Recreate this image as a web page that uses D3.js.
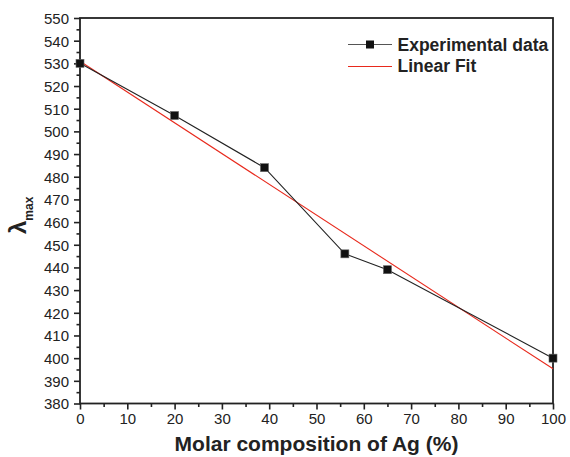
<!DOCTYPE html>
<html><head><meta charset="utf-8">
<script src="https://cdn.jsdelivr.net/npm/d3@7"></script>
<style>body{margin:0;background:#fff}svg{display:block}text{font-family:"Liberation Sans",Arial,sans-serif}</style>
</head><body>
<script>
const xValues = [0, 20, 39, 56, 65, 100];
const yValues = [530, 507, 484, 446, 439, 400];
const fitX = [0, 100];
const fitY = [530.9, 395.3];
const xTicks = [0,10,20,30,40,50,60,70,80,90,100];
const yTicks = [380,390,400,410,420,430,440,450,460,470,480,490,500,510,520,530,540,550];
const seriesNames = ["Experimental data", "Linear Fit"];

const W = 570, H = 457;
const m = {l: 80, r: 17, t: 18, b: 53.5};
const svg = d3.select("body").append("svg").attr("width", W).attr("height", H);
const x = d3.scaleLinear().domain([0,100]).range([m.l, W - m.r]);
const y = d3.scaleLinear().domain([380,550]).range([H - m.b, m.t]);

// minor ticks
const xMinor = d3.range(5, 100, 10);
const yMinor = d3.range(385, 550, 10);

const gx = svg.append("g").attr("transform", `translate(0,${y(380)})`)
  .call(d3.axisBottom(x).tickValues(xTicks).tickSize(6).tickPadding(4));
const gxm = svg.append("g").attr("transform", `translate(0,${y(380)})`)
  .call(d3.axisBottom(x).tickValues(xMinor).tickSize(3.5).tickFormat(""));
const gy = svg.append("g").attr("transform", `translate(${x(0)},0)`)
  .call(d3.axisLeft(y).tickValues(yTicks).tickSize(6).tickPadding(5));
const gym = svg.append("g").attr("transform", `translate(${x(0)},0)`)
  .call(d3.axisLeft(y).tickValues(yMinor).tickSize(3.5).tickFormat(""));
[gx,gxm,gy,gym].forEach(g => {
  g.select(".domain").remove();
  g.selectAll("line").attr("stroke", "#222").attr("stroke-width", 1.6);
  g.selectAll("text").attr("font-size", 15).attr("fill", "#222").attr("font-family", '"Liberation Sans",Arial,sans-serif');
});
gy.selectAll("text").attr("dy", "0.36em");

// frame
svg.append("rect").attr("x", x(0)).attr("y", y(550))
  .attr("width", x(100) - x(0)).attr("height", y(380) - y(550))
  .attr("fill", "none").attr("stroke", "#222").attr("stroke-width", 1.8);

// fit line
const line = d3.line().x(d => x(d[0])).y(d => y(d[1]));
svg.append("path").datum(fitX.map((v,i)=>[v, fitY[i]]))
  .attr("d", line).attr("fill","none").attr("stroke","#e8291c").attr("stroke-width",1.1);

// data line
const pts = xValues.map((v,i)=>[v, yValues[i]]);
svg.append("path").datum(pts).attr("d", line)
  .attr("fill","none").attr("stroke","#222").attr("stroke-width",1.1);
svg.selectAll("rect.mk").data(pts).enter().append("rect").attr("class","mk")
  .attr("x", d => x(d[0]) - 4).attr("y", d => y(d[1]) - 4)
  .attr("width", 8).attr("height", 8)
  .attr("fill", "#111").attr("stroke", "#666").attr("stroke-width", 0.6);

// legend
const lg = svg.append("g");
lg.append("line").attr("x1", 348).attr("x2", 392).attr("y1", 44.5).attr("y2", 44.5)
  .attr("stroke", "#555").attr("stroke-width", 1.1);
lg.append("rect").attr("x", 366).attr("y", 40.5).attr("width", 8).attr("height", 8).attr("fill", "#111");
lg.append("line").attr("x1", 348).attr("x2", 392).attr("y1", 66.5).attr("y2", 66.5)
  .attr("stroke", "#e8291c").attr("stroke-width", 1.1);
lg.append("text").attr("x", 397.5).attr("y", 50.5).attr("font-size", 17.5).attr("font-weight","bold")
  .attr("fill","#222").text(seriesNames[0]);
lg.append("text").attr("x", 397.5).attr("y", 72).attr("font-size", 17.5).attr("font-weight","bold")
  .attr("fill","#222").text(seriesNames[1]);

// axis titles
svg.append("text").attr("x", (x(0)+x(100))/2).attr("y", 451).attr("text-anchor","middle")
  .attr("font-size", 21).attr("font-weight","bold").attr("fill","#222")
  .text("Molar composition of Ag (%)");
const yt = svg.append("text").attr("transform", "translate(26,234) rotate(-90)")
  .attr("font-weight","bold").attr("fill","#222");
yt.append("tspan").attr("font-size", 24).text("λ");
yt.append("tspan").attr("font-size", 12).attr("dy", 7).text("max");
</script>
</body></html>
